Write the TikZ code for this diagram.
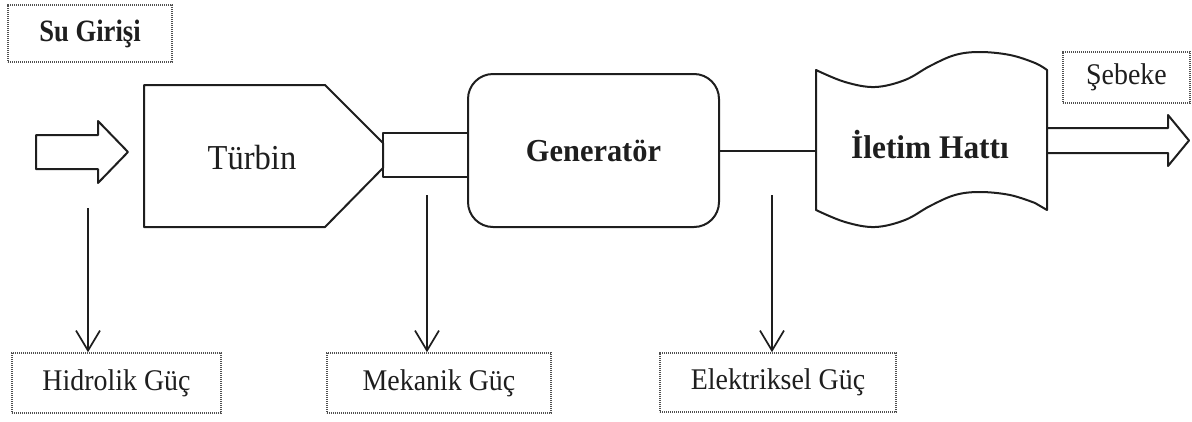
\documentclass[tikz,border=0pt]{standalone}
\usepackage{fontspec}
\setmainfont{Liberation Serif}
\newfontfamily\cnd[FakeStretch=0.93]{Liberation Serif}
\newfontfamily\cndb[FakeStretch=0.95]{Liberation Serif Bold}
\newfontfamily\cndbb[FakeStretch=0.86]{Liberation Serif Bold}
\usetikzlibrary{arrows.meta}
\definecolor{ink}{HTML}{1E1E1E}
\definecolor{dotc}{HTML}{505050}
\begin{document}
\begin{tikzpicture}[x=1pt,y=-1pt,
  shapeline/.style={draw=ink, line width=2pt, line join=round},
  lbl/.style={text=ink, inner sep=0pt},
  dotbox/.style={draw=dotc, line width=1.6pt, dash pattern=on 1.2pt off 0.8pt, inner sep=0pt, text=ink, font=\cnd\fontsize{30}{35}\selectfont},
  down/.style={draw=ink, line width=1.7pt, -{Straight Barb[length=20pt,width=24pt,line width=1.7pt]}},
]
\useasboundingbox (0,0) rectangle (1192,421);

% dotted label boxes
\node[dotbox, minimum width=164pt, minimum height=57pt, font=\cndbb\fontsize{31}{36}\selectfont] (su) at (90,33.5) {Su Girişi};
\node[dotbox, minimum width=127pt, minimum height=51pt] (seb) at (1126.5,77.5) {Şebeke};
\node[dotbox, minimum width=209pt, minimum height=60pt] (hid) at (116.5,383) {Hidrolik Güç};
\node[dotbox, minimum width=224pt, minimum height=60pt] (mek) at (439,383) {Mekanik Güç};
\node[dotbox, minimum width=236pt, minimum height=59pt] (ele) at (778,382.5) {Elektriksel Güç};

% input hollow arrow
\draw[shapeline] (36,135) -- (98,135) -- (98,121) -- (128,152) -- (98,183) -- (98,169) -- (36,169) -- cycle;

% turbine
\draw[shapeline] (144,85) -- (325,85) -- (383,143) -- (383,168) -- (325,227) -- (144,227) -- cycle;
\node[lbl, font=\cnd\fontsize{35}{40}\selectfont] (turb) at (252,158) {Türbin};

% shaft
\node[shapeline, draw, minimum width=85pt, minimum height=44pt, inner sep=0pt] (shaft) at (425.5,155) {};

% generator
\node[shapeline, draw, rounded corners=25pt, minimum width=251pt, minimum height=153pt, inner sep=0pt, text=ink, font=\cndb\fontsize{32}{37}\selectfont] (gen) at (593.5,150.5) {Generatör};

% transmission line shape
\draw[shapeline] plot[smooth, tension=0.6] coordinates {(816,70) (845,82) (875,87) (905,80) (930,66) (955,55) (980,52) (1010,55) (1035,63) (1047,70)}
  -- (1047,210)
  -- plot[smooth, tension=0.6] coordinates {(1035,203) (1010,195) (980,192) (955,195) (930,206) (905,220) (875,227) (845,222) (816,210)}
  -- cycle;
\coordinate (iletW) at (816,150.5);
\node[lbl, font=\cndb\fontsize{33}{38}\selectfont] (ilet) at (930,145) {İletim Hattı};

\draw[shapeline] (gen.east) -- (gen.east -| iletW);

% output hollow arrow
\draw[shapeline] (1047,128) -- (1168,128) -- (1168,115) -- (1189,140.5) -- (1168,166) -- (1168,153) -- (1047,153);

% down arrows
\coordinate (h0) at (88,208);
\coordinate (m0) at (427,195);
\coordinate (e0) at (772,195);
\draw[down] (h0) -- (h0 |- hid.north);
\draw[down] (m0) -- (m0 |- mek.north);
\draw[down] (e0) -- (e0 |- ele.north);
\end{tikzpicture}
\end{document}
